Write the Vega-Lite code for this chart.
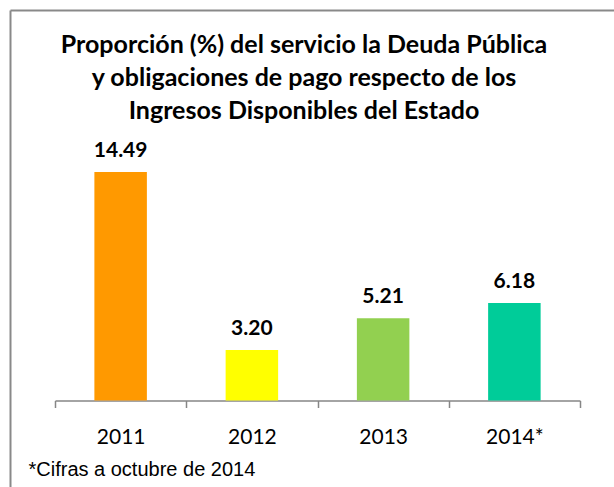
{
  "$schema": "https://vega.github.io/schema/vega-lite/v6.json",
  "width": 604,
  "height": 477,
  "autosize": {"type": "none"},
  "padding": {"left": 10, "top": 10, "right": 0, "bottom": 0},
  "background": "white",
  "config": {"view": {"stroke": null}},
  "title": {
    "text": ["Proporción (%) del servicio la Deuda Pública", "y obligaciones de pago respecto de los", "Ingresos Disponibles del Estado"],
    "font": "Lato",
    "fontSize": 25,
    "fontWeight": "bold",
    "color": "black",
    "anchor": "middle",
    "frame": "group",
    "baseline": "alphabetic",
    "offset": -134,
    "lineHeight": 33,
    "dx": -8
  },
  "data": {
    "values": [
      {"year": "2011", "value": 14.49},
      {"year": "2012", "value": 3.20},
      {"year": "2013", "value": 5.21},
      {"year": "2014*", "value": 6.18}
    ]
  },
  "resolve": {"scale": {"x": "independent"}, "axis": {"x": "independent"}},
  "layer": [
    {
      "mark": {"type": "bar"},
      "encoding": {
        "x": {
          "field": "year",
          "type": "nominal",
          "sort": null,
          "scale": {"range": [0, 604], "paddingInner": 0.6, "paddingOuter": 0.601, "align": 0.5349},
          "axis": null
        },
        "y": {
          "field": "value",
          "type": "quantitative",
          "scale": {"domain": [-5.485, 24.76], "range": [477, 0], "nice": false, "zero": false},
          "axis": {
            "values": [24.76],
            "title": null,
            "labels": false,
            "ticks": false,
            "domain": true,
            "domainColor": "#898989",
            "domainWidth": 2,
            "grid": true,
            "gridColor": "#898989",
            "gridWidth": 2
          }
        },
        "y2": {"datum": 0},
        "color": {
          "field": "year",
          "type": "nominal",
          "scale": {"domain": ["2011", "2012", "2013", "2014*"], "range": ["#FF9900", "#FFFF00", "#92D050", "#00CC99"]},
          "legend": null
        }
      }
    },
    {
      "mark": {"type": "text", "font": "Lato", "fontWeight": "bold", "fontSize": 21, "baseline": "alphabetic", "dy": -15, "color": "black"},
      "encoding": {
        "x": {
          "field": "year",
          "type": "nominal",
          "sort": null,
          "scale": {"range": [45, 570], "paddingInner": 0, "paddingOuter": 0},
          "axis": {
            "title": "*Cifras a octubre de 2014",
            "titleFont": "Liberation Sans",
            "titleFontSize": 20,
            "titleFontWeight": "normal",
            "titleColor": "black",
            "titleAnchor": "start",
            "titleAlign": "left",
            "titleBaseline": "alphabetic",
            "titleX": 18,
            "titleY": 75,
            "offset": -86.5,
            "labelAngle": 0,
            "labelFont": "Lato",
            "labelFontSize": 21,
            "labelColor": "black",
            "labelPadding": 19,
            "domainColor": "#868686",
            "domainWidth": 1.5,
            "tickColor": "#868686",
            "tickSize": 7,
            "tickWidth": 1.5,
            "tickBand": "extent",
            "grid": false
          }
        },
        "y": {"field": "value", "type": "quantitative"},
        "text": {"field": "value", "type": "quantitative", "format": ".2f"}
      }
    }
  ]
}
